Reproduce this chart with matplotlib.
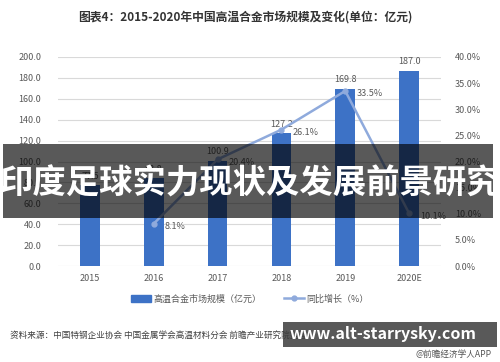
import matplotlib
matplotlib.use("Agg")
import matplotlib.pyplot as plt
from matplotlib.patches import Rectangle
from matplotlib.lines import Line2D
from matplotlib.ticker import FuncFormatter, MultipleLocator

plt.rcParams['font.family'] = ['Noto Sans CJK SC', 'DejaVu Sans']

years = ['2015', '2016', '2017', '2018', '2019', '2020E']
market = [77.5, 83.8, 100.9, 127.2, 169.8, 187.0]
growth_years = ['2016', '2017', '2018', '2019', '2020E']
growth = [8.1, 20.4, 26.1, 33.5, 10.1]

title = '图表4：2015-2020年中国高温合金市场规模及变化(单位：亿元)'
bar_label = '高温合金市场规模（亿元）'
line_label = '同比增长（%）'
source = '资料来源：中国特钢企业协会 中国金属学会高温材料分会 前瞻产业研究院整理'
credit = '@前瞻经济学人APP'
banner = '印度足球实力现状及发展前景研究'
site = 'www.alt-starrysky.com'

W, H = 500, 362
fig = plt.figure(figsize=(W/100, H/100), dpi=100)
fig.patch.set_facecolor('white')

def fx(px): return px / W
def fy(py): return 1 - py / H

ax = fig.add_axes([fx(58), fy(266), fx(441) - fx(58), fy(57) - fy(266)])
bar_color = '#3D72C6'
line_color = '#8FAADC'
tick_color = '#595959'

x = list(range(len(years)))
ax.bar(x, market, width=0.31, color=bar_color, zorder=2)
for xi, v in zip(x, market):
    ax.annotate(f'{v:.1f}', (xi, v), xytext=(0, 3), textcoords='offset points',
                ha='center', va='bottom', fontsize=6.5, color=tick_color, zorder=5)
ax.set_ylim(0, 200)
ax.set_xlim(-0.5, len(years) - 0.5)
ax.yaxis.set_major_locator(MultipleLocator(20))
ax.yaxis.set_major_formatter(FuncFormatter(lambda v, p: f'{v:.1f}'))
ax.grid(axis='y', color='#D9D9D9', linewidth=0.8, zorder=0)
ax.set_axisbelow(True)
for s in ax.spines.values():
    s.set_visible(False)
ax.set_xticks(x)
ax.set_xticklabels(years)
ax.tick_params(axis='both', length=0, labelsize=6.5, colors=tick_color)
ax.tick_params(axis='y', pad=12)
ax.tick_params(axis='x', pad=6)

ax2 = ax.twinx()
gx = [years.index(g) for g in growth_years]
ax2.plot(gx, growth, color=line_color, linewidth=1.8, marker='o', markersize=3.5, zorder=4)
for xi, v in zip(gx, growth):
    ax2.annotate(f'{v:.1f}%', (xi, v), xytext=(8, -2), textcoords='offset points',
                 ha='left', va='center', fontsize=6.5, color=tick_color, zorder=5)
ax2.set_ylim(0, 40)
ax2.yaxis.set_major_locator(MultipleLocator(5))
ax2.yaxis.set_major_formatter(FuncFormatter(lambda v, p: f'{v:.1f}%'))
for s in ax2.spines.values():
    s.set_visible(False)
ax2.tick_params(axis='y', length=0, labelsize=6.5, colors=tick_color, pad=10)

fig.text(0.49, fy(17), title, ha='center', va='center', fontsize=8.5,
         fontweight='bold', color='#333333')

handles = [Rectangle((0, 0), 1, 1, color=bar_color),
           Line2D([0], [0], color=line_color, linewidth=1.8, marker='o', markersize=3.5)]
fig.legend(handles, [bar_label, line_label], loc='center', bbox_to_anchor=(0.5, fy(299)),
           ncol=2, frameon=False, fontsize=6.5, handlelength=2.2, columnspacing=2.5,
           labelcolor=tick_color, handletextpad=0.3)

fig.text(fx(10), fy(335), source, ha='left', va='center', fontsize=6.2, color='#404040')
fig.text(fx(492), fy(354), credit, ha='right', va='center', fontsize=6.2, color='#555555')

# overlay banners
fig.patches.append(Rectangle((fx(3), fy(218)), fx(490), fy(144) - fy(218),
                             transform=fig.transFigure, facecolor='black', alpha=0.65,
                             zorder=10))
fig.text(0.5, fy(184), banner, ha='center', va='center', fontsize=24,
         fontweight='bold', color='white', zorder=11)

fig.patches.append(Rectangle((fx(283), fy(347)), fx(497) - fx(283), fy(322) - fy(347),
                             transform=fig.transFigure, facecolor='#3c3c3c', alpha=0.85,
                             zorder=10))
fig.text(fx(383), fy(334), site, ha='center', va='center', fontsize=11.5,
         fontweight='bold', color='white', zorder=11)

fig.savefig('out.png', dpi=100)
